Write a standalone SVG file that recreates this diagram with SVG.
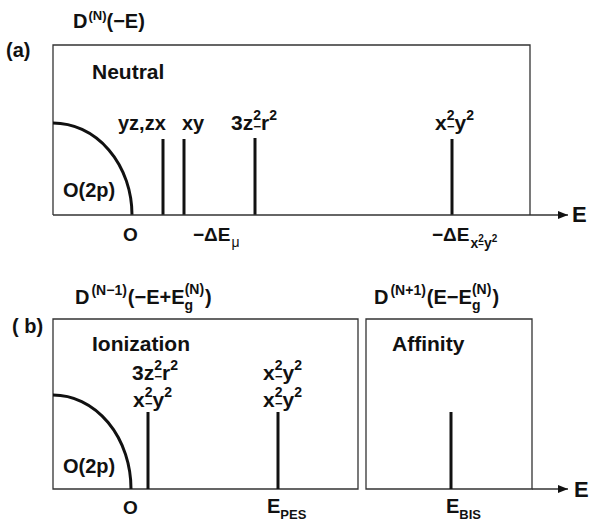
<svg xmlns="http://www.w3.org/2000/svg" width="592" height="522" viewBox="0 0 592 522">
<defs>
<style>
.t{font-family:"Liberation Sans",Arial,Helvetica,sans-serif;font-weight:bold;fill:#111}
.f22{font-size:22px}.f21{font-size:21px}.f20{font-size:20px}.f19{font-size:19px}.f14{font-size:14px}.f13{font-size:13px}.f12{font-size:12px}.f10{font-size:10px}
.box{fill:none;stroke:#333;stroke-width:1.3}
.axis{fill:none;stroke:#333;stroke-width:1.3}
.peak{stroke:#111;stroke-width:3;fill:none}
.band{stroke:#111;stroke-width:3;fill:none}
</style>
<marker id="arr" markerWidth="10" markerHeight="8" refX="10" refY="4" orient="auto" markerUnits="userSpaceOnUse">
<path d="M0,0 L10,4 L0,8 Z" fill="#111"/>
</marker>
</defs>
<rect width="592" height="522" fill="#fff"/>

<g id="panel-a">
<text class="t f20" x="73" y="28">D<tspan class="f13" dy="-8" dx="1">(N)</tspan><tspan dy="8">(−E)</tspan></text>
<text class="t f20" x="6" y="57">(a)</text>
<path class="box" d="M53,215 V45 H530 V215"/>
<text class="t f21" x="92" y="79">Neutral</text>
<text class="t f20" x="63" y="197">O(2p)</text>
</g>
<g id="band-a"><path class="band" d="M53,123 A79,92 0 0 1 132,215"/></g>
<g id="peak-yzzx"><line class="peak" x1="163" y1="139" x2="163" y2="215"/><text class="t f20" x="118" y="130">yz,zx</text></g>
<g id="peak-xy"><line class="peak" x1="184" y1="139" x2="184" y2="215"/><text class="t f20" x="182" y="130">xy</text></g>
<g id="peak-3z2r2-a"><line class="peak" x1="255" y1="138" x2="255" y2="215"/>
<text class="t f21" x="231" y="130">3z<tspan class="f14" dy="-10">2</tspan><tspan class="f13" dx="-7.6" dy="11">−</tspan><tspan dy="-1">r</tspan><tspan class="f14" dy="-10">2</tspan></text></g>
<g id="peak-x2y2-a"><line class="peak" x1="452" y1="139" x2="452" y2="215"/>
<text class="t f21" x="435" y="130">x<tspan class="f14" dy="-10">2</tspan><tspan class="f13" dx="-7.6" dy="11">−</tspan><tspan dy="-1">y</tspan><tspan class="f14" dy="-10">2</tspan></text></g>
<g id="ticks-a">
<text class="t f19" x="123" y="241">O</text>
<text class="t f19" x="193" y="241">−ΔE<tspan class="f14" font-weight="normal" dy="6" dx="1">μ</tspan></text>
<text class="t f19" x="432" y="241">−ΔE<tspan class="f14" dy="7" dx="1">x</tspan><tspan class="f10" dy="-6">2</tspan><tspan class="f10" dx="-5.6" dy="6">−</tspan><tspan class="f14" dy="0">y</tspan><tspan class="f10" dy="-6">2</tspan></text>
<text class="t f22" x="572" y="222">E</text>
</g>

<g id="panel-b-ion">
<text class="t f20" x="75" y="304">D<tspan class="f14" dy="-9" dx="2">(N−1)</tspan><tspan dy="9" dx="1">(−E+E</tspan><tspan class="f14" dy="6">g</tspan><tspan class="f14" dx="-8.5" dy="-16">(N)</tspan><tspan dy="10" dx="1">)</tspan></text>
<text class="t f20" x="12" y="333">( b)</text>
<path class="box" d="M53,489 V319 H358 V489 Z"/>
<text class="t f21" x="92" y="351">Ionization</text>
<text class="t f20" x="63" y="473">O(2p)</text>
</g>
<g id="panel-b-aff">
<text class="t f20" x="374" y="304">D<tspan class="f14" dy="-9" dx="2">(N+1)</tspan><tspan dy="9" dx="1">(E−E</tspan><tspan class="f14" dy="6">g</tspan><tspan class="f14" dx="-8.5" dy="-16">(N)</tspan><tspan dy="10" dx="1">)</tspan></text>
<path class="box" d="M366,489 V319 H532 V489 Z"/>
<text class="t f21" x="392" y="351">Affinity</text>
</g>
<g id="band-b"><path class="band" d="M53,395 A78,94 0 0 1 131,489"/></g>
<g id="peak-ion-1"><line class="peak" x1="148" y1="412" x2="148" y2="489"/>
<text class="t f21" x="132" y="380">3z<tspan class="f14" dy="-10">2</tspan><tspan class="f13" dx="-7.6" dy="11">−</tspan><tspan dy="-1">r</tspan><tspan class="f14" dy="-10">2</tspan></text>
<text class="t f21" x="133" y="407">x<tspan class="f14" dy="-10">2</tspan><tspan class="f13" dx="-7.6" dy="11">−</tspan><tspan dy="-1">y</tspan><tspan class="f14" dy="-10">2</tspan></text></g>
<g id="peak-ion-2"><line class="peak" x1="278" y1="412" x2="278" y2="489"/>
<text class="t f21" x="263" y="380">x<tspan class="f14" dy="-10">2</tspan><tspan class="f13" dx="-7.6" dy="11">−</tspan><tspan dy="-1">y</tspan><tspan class="f14" dy="-10">2</tspan></text>
<text class="t f21" x="263" y="407">x<tspan class="f14" dy="-10">2</tspan><tspan class="f13" dx="-7.6" dy="11">−</tspan><tspan dy="-1">y</tspan><tspan class="f14" dy="-10">2</tspan></text></g>
<g id="peak-aff"><line class="peak" x1="451" y1="412" x2="451" y2="489"/></g>
<g id="ticks-b">
<text class="t f19" x="123" y="514">O</text>
<text class="t f20" x="267" y="513">E<tspan class="f13" dy="6">PES</tspan></text>
<text class="t f20" x="446" y="513">E<tspan class="f13" dy="6">BIS</tspan></text>
<text class="t f22" x="574" y="497">E</text>
</g>

<g id="connectors">
<line class="axis" x1="53" y1="215" x2="568" y2="215" marker-end="url(#arr)"/>
<line class="axis" x1="532" y1="489" x2="568" y2="489" marker-end="url(#arr)"/>
</g>
</svg>
